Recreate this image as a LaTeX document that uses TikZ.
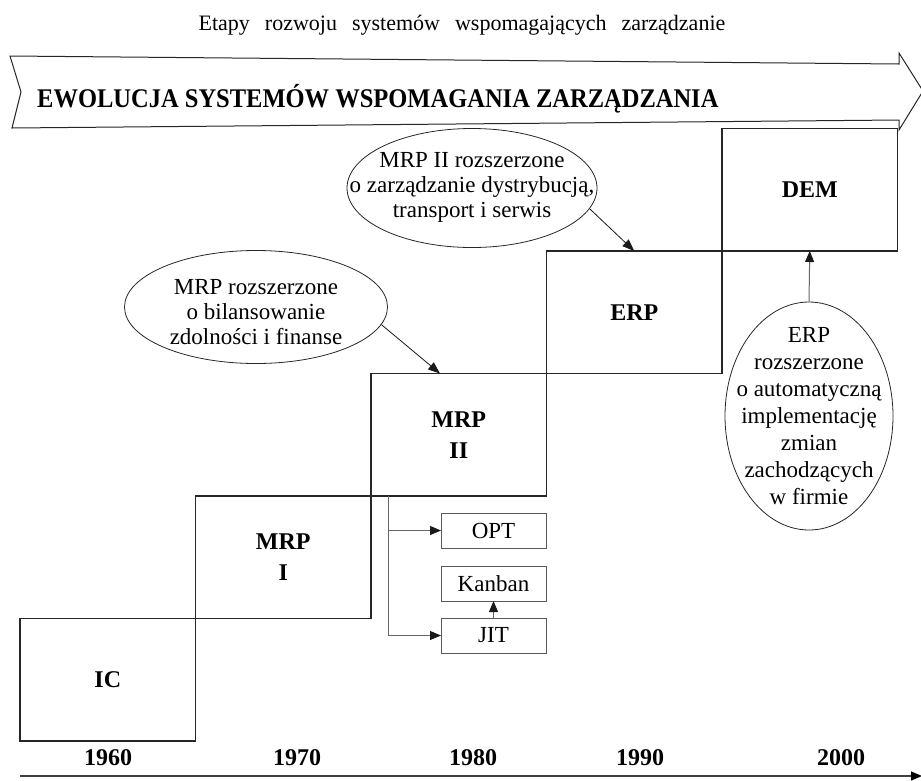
\documentclass[tikz,border=0pt]{standalone}
\usepackage{fontspec}
\setmainfont{Liberation Serif}
\usetikzlibrary{shapes.geometric,arrows.meta,positioning}
\tikzset{
  stage/.style={draw=black!85, line width=1.1pt, minimum width=175.5pt, minimum height=122.5pt,
    inner sep=0pt, outer sep=0pt, anchor=south west, align=center,
    font=\fontsize{24}{31}\selectfont\bfseries},
  tool/.style={draw=black!65, line width=1pt, minimum width=105pt, minimum height=35pt,
    inner sep=0pt, outer sep=0pt, font=\fontsize{23}{25}\selectfont},
  bubble/.style={ellipse, draw=black!85, line width=0.8pt, inner sep=0pt},
  note/.style={align=center, inner sep=0pt, font=\fontsize{23}{25}\selectfont},
  year/.style={inner sep=0pt, font=\fontsize{24}{24}\selectfont\bfseries},
  pointer/.style={draw=black!90, line width=0.8pt, -{Triangle[length=12pt,width=9pt]}},
  link/.style={draw=black!60, line width=1pt, -{Triangle[length=11pt,width=9pt,color=black!90]}}
}
\begin{document}
\begin{tikzpicture}[x=1pt,y=-1pt]
\useasboundingbox (0,0) rectangle (921,780);
\node[font=\fontsize{22}{22}\selectfont, inner sep=0pt] (title) at (462,25)
  {\spaceskip=15pt\relax Etapy rozwoju systemów wspomagających zarządzanie};
% banner
\draw[black!85, line width=1pt, fill=white] (10,56) -- (899,64) -- (899,53) -- (923,91)
  -- (899,130) -- (899,120) -- (12,128) -- (21,92) -- cycle;
\node[anchor=west, inner sep=0pt, yscale=1.1, transform shape,
  font=\fontsize{24.5}{25}\selectfont\bfseries] (banner) at (37,99)
  {EWOLUCJA SYSTEMÓW WSPOMAGANIA ZARZĄDZANIA};
% stages
\node[stage] (ic) at (20,741) {IC};
\node[stage] (mrpi) at (ic.north east) {MRP\\I};
\node[stage] (mrpii) at (mrpi.north east) {MRP\\II};
\node[stage] (erp) at (mrpii.north east) {ERP};
\node[stage] (dem) at (erp.north east) {DEM};
% tools
\node[tool] (jit) at (493.5,635.5) {JIT};
\node[tool, above=17pt of jit] (kanban) {Kanban};
\node[tool, above=18pt of kanban] (opt) {OPT};
\coordinate (fork) at ([xshift=17pt]mrpii.south west);
\draw[link] (fork) |- (opt.west);
\draw[link] (fork) |- (jit.west);
\draw[link] (jit) -- (kanban);
% notes
\node[bubble, minimum width=263pt, minimum height=113pt] (e1) at (256,307) {};
\node[note] (t1) at (256,312) {MRP rozszerzone\\o bilansowanie\\zdolności i finanse};
\node[bubble, minimum width=250pt, minimum height=119pt] (e2) at (472,188) {};
\node[note] (t2) at (472,187) {MRP II rozszerzone\\o zarządzanie dystrybucją,\\transport i serwis};
\node[bubble, minimum width=168pt, minimum height=228pt] (e3) at (809,416) {};
\node[note, font=\fontsize{23}{27}\selectfont] (t3) at (809,416)
  {ERP\\rozszerzone\\o automatyczną\\implementację\\zmian\\zachodzących\\w firmie};
\draw[pointer] (e1.-8) -- ([xshift=69pt]mrpii.north west);
\draw[pointer] (e2.-10) -- (erp.north);
\draw[link] (e3.north) -- (dem.south);
% time axis
\node[year] (y1960) at (108,758) {1960};
\node[year] (y1970) at (297,758) {1970};
\node[year] (y1980) at (473,758) {1980};
\node[year] (y1990) at (640,758) {1990};
\node[year] (y2000) at (841,758) {2000};
\coordinate (ax0) at (20,776);
\coordinate (ax1) at (922,776);
\draw[black!75, line width=1.2pt, -{Triangle[length=11pt,width=9pt,color=black]}] (ax0) -- (ax1);
\end{tikzpicture}
\end{document}
